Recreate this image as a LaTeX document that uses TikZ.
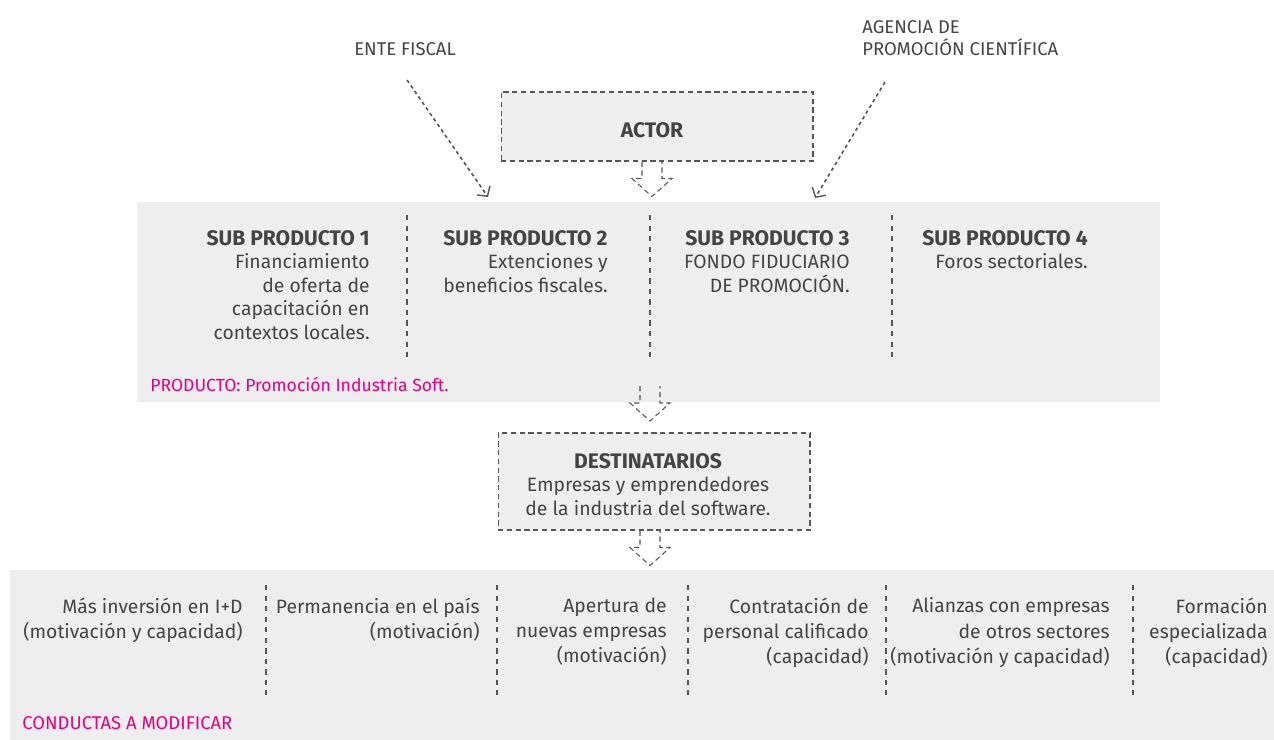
\documentclass[tikz,border=0pt]{standalone}
\usepackage{fontspec}
\setmainfont{Fira Sans}
\usetikzlibrary{arrows.meta}
\definecolor{panelgray}{HTML}{EEEEEE}
\definecolor{txtgray}{HTML}{444444}
\definecolor{linegray}{HTML}{555555}
\definecolor{prodpink}{HTML}{E6007E}
\def\blockarrow(#1){\draw[blockarr] (#1) ++(-10,0) -- ++(0,17) -- ++(-10,0) -- ++(20,18) -- ++(20,-18) -- ++(-10,0) -- ++(0,-17);}
\def\hd#1{{\fontsize{12}{13.3}\selectfont\bfseries #1}}

\begin{document}
\begin{tikzpicture}[x=0.02cm,y=-0.02cm,
	every node/.style={text=txtgray,inner sep=0pt},
	panel/.style={fill=panelgray,draw=none},
	dashbox/.style={fill=panelgray,draw=linegray,densely dashed,line width=0.6pt},
	blockarr/.style={draw=linegray,densely dashed,line width=0.6pt},
	dotarr/.style={draw=linegray,dash pattern=on 2pt off 1.8pt,line width=0.9pt,-{Straight Barb[length=4pt,width=9pt,line width=0.8pt]}},
	sepline/.style={draw=linegray,dashed,line width=0.7pt},
	subtxt/.style={align=right,anchor=north east,execute at begin node=\strut,font=\fontsize{11}{13.4}\selectfont},
	condtxt/.style={align=right,anchor=north east,execute at begin node=\strut,font=\fontsize{11}{14.3}\selectfont},
	toplbl/.style={font=\fontsize{10.5}{12.5}\selectfont},
	pinklbl/.style={text=prodpink,anchor=base west,font=\fontsize{10}{12}\selectfont}]
	%%%%% START %%%%%
	\useasboundingbox (0,0) rectangle (1274,740);

	% actores externos
	\node[toplbl,anchor=base] (ente) at (405,56) {ENTE FISCAL};
	\node[toplbl,anchor=north west,align=left,execute at begin node=\strut] (agencia) at (862,20.6) {AGENCIA DE\\PROMOCIÓN CIENTÍFICA};
	\coordinate (entefrom) at (407,80);
	\coordinate (enteto) at (488,197);
	\coordinate (agfrom) at (885,82);
	\coordinate (agto) at (815,198);

	% actor
	\node[dashbox,minimum width=6.24cm,minimum height=1.38cm] (actor) at (657,126.5) {};
	\node (actortxt) at (652,130.5) {\hd{ACTOR}};

	% producto
	\node[panel,minimum width=20.46cm,minimum height=4cm] (prod) at (648.5,302) {};
	\draw[sepline] (407,215) -- (407,357);
	\draw[sepline] (650,215) -- (650,357);
	\draw[sepline] (892,215) -- (892,357);
	\node[subtxt] (sp1) at (370,229.8) {\hd{SUB PRODUCTO 1}\\Financiamiento\\de oferta de\\capacitación en\\contextos locales.};
	\node[subtxt] (sp2) at (608,229.8) {\hd{SUB PRODUCTO 2}\\Extenciones y\\beneficios fiscales.};
	\node[subtxt] (sp3) at (850,229.8) {\hd{SUB PRODUCTO 3}\\FONDO FIDUCIARIO\\DE PROMOCIÓN.};
	\node[subtxt] (sp4) at (1088,229.8) {\hd{SUB PRODUCTO 4}\\Foros sectoriales.};
	\node[pinklbl] (prodlbl) at (150,391) {PRODUCTO: Promoción Industria Soft.};

	\draw[dotarr] (entefrom) -- (enteto);
	\draw[dotarr] (agfrom) -- (agto);
	\blockarrow([xshift=-0.1cm]actor.south)

	% destinatarios
	\coordinate (prodout) at (650,386);
	\blockarrow(prodout)
	\node[dashbox,minimum width=6.24cm,minimum height=1.94cm] (dest) at (654,481.5) {};
	\node[align=center,anchor=north,execute at begin node=\strut,font=\fontsize{11}{13.4}\selectfont] (desttxt) at (648,452.8) {\hd{DESTINATARIOS}\\Empresas y emprendedores\\de la industria del software.};
	\blockarrow([xshift=-0.08cm]dest.south)

	% conductas
	\node[panel,minimum width=25.28cm,minimum height=3.4cm] (cond) at (642,655) {};
	\draw[sepline] (266,585) -- (266,695);
	\draw[sepline] (497,585) -- (497,695);
	\draw[sepline] (688,585) -- (688,695);
	\draw[sepline] (886,585) -- (886,695);
	\draw[sepline] (1133,585) -- (1133,695);
	\node[condtxt] (c1) at (243,597.5) {Más inversión en I+D\\(motivación y capacidad)};
	\node[condtxt] (c2) at (480,597.5) {Permanencia en el país\\(motivación)};
	\node[condtxt] (c3) at (667,597.5) {Apertura de\\nuevas empresas\\(motivación)};
	\node[condtxt] (c4) at (869,597.5) {Contratación de\\personal calificado\\(capacidad)};
	\node[condtxt] (c5) at (1110,597.5) {Alianzas con empresas\\de otros sectores\\(motivación y capacidad)};
	\node[condtxt] (c6) at (1268,597.5) {Formación\\especializada\\(capacidad)};
	\node[pinklbl,font=\fontsize{10.5}{12}\selectfont] (condlbl) at (22,729) {CONDUCTAS A MODIFICAR};
	%%%%% END %%%%%
\end{tikzpicture}
\end{document}
